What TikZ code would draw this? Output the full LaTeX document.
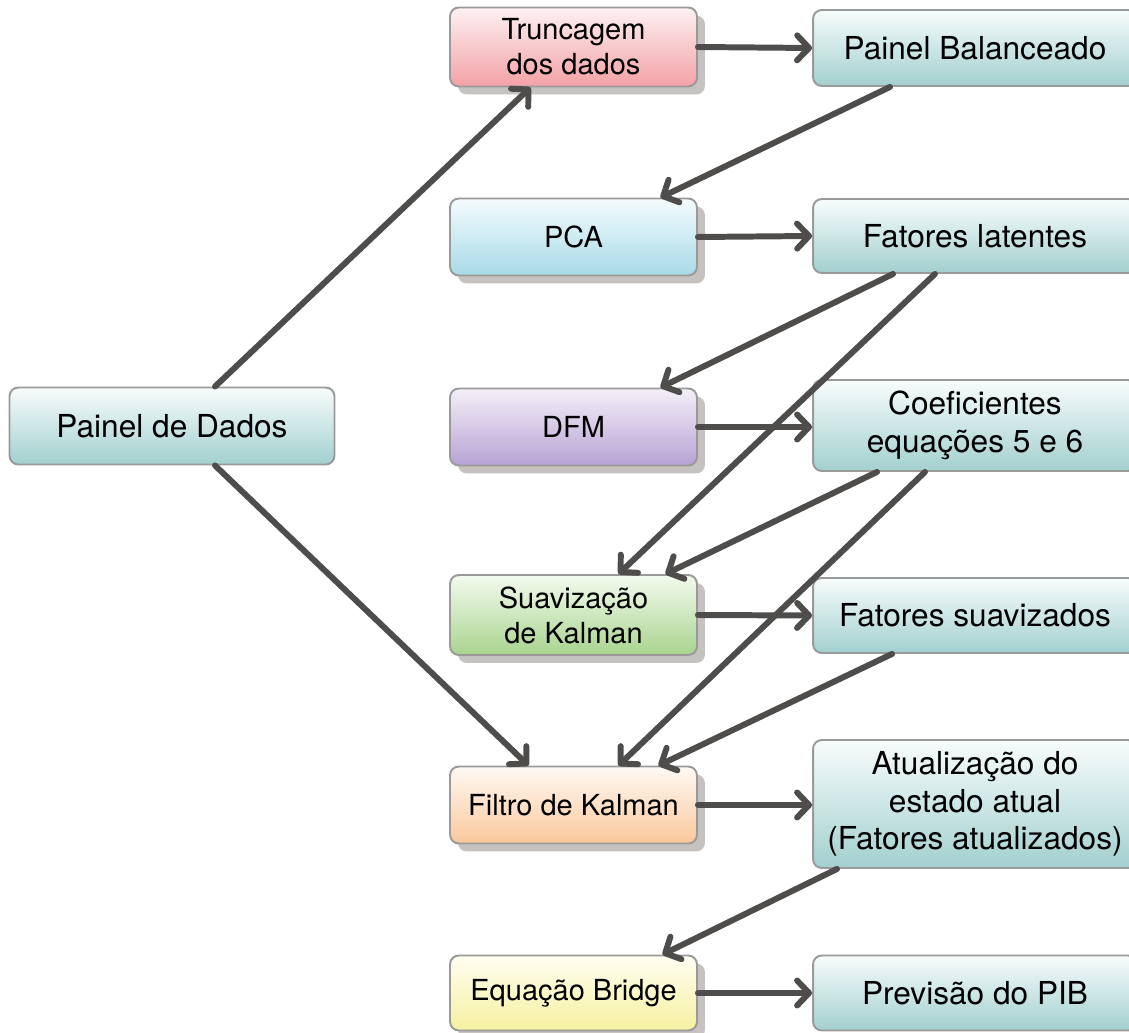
\documentclass[tikz,border=0pt]{standalone}
\usepackage{fontspec}
\setmainfont{TeX Gyre Heros}
\usetikzlibrary{arrows.meta,calc,shadows}
\definecolor{Borda}{HTML}{9A9A9A}
\definecolor{Sombra}{HTML}{C6C2BF}
\definecolor{Seta}{HTML}{4F4D4B}
\definecolor{TealTop}{HTML}{F8FCFC}
\definecolor{TealBot}{HTML}{A2D0CF}
\definecolor{RedTop}{HTML}{FDF1F2}
\definecolor{RedBot}{HTML}{F3A1A6}
\definecolor{BlueTop}{HTML}{F5FBFD}
\definecolor{BlueBot}{HTML}{A8DAE7}
\definecolor{LilacTop}{HTML}{F4EFF8}
\definecolor{LilacBot}{HTML}{B7A3D4}
\definecolor{GreenTop}{HTML}{F3FAEE}
\definecolor{GreenBot}{HTML}{A9D48F}
\definecolor{PeachTop}{HTML}{FFF9F4}
\definecolor{PeachBot}{HTML}{FAC89B}
\definecolor{YellowTop}{HTML}{FFFEF2}
\definecolor{YellowBot}{HTML}{F6F0A0}
\tikzset{
  caixa/.style={
    rounded corners=5pt, draw=Borda, line width=1.1pt,
    top color=TealTop, bottom color=TealBot,
    align=center, inner sep=2pt, text=black
  },
  etapa/.style={
    caixa, minimum width=4.94cm, minimum height=1.54cm,
    font=\fontsize{16.5}{20}\selectfont,
    drop shadow={shadow xshift=0.16cm, shadow yshift=-0.16cm,
      fill=Sombra, opacity=1}
  },
  saida/.style={
    caixa, minimum width=6.48cm, minimum height=1.52cm,
    font=\fontsize{18}{21.5}\selectfont
  },
  tons/.style 2 args={top color=#1, bottom color=#2},
  fluxo/.style={-{Straight Barb[length=2.4mm,width=5mm,round]},
    line width=3.4pt, draw=Seta, line cap=round}
}
\begin{document}
\begin{tikzpicture}[x=0.02cm,y=-0.02cm]
    \useasboundingbox (0,0) rectangle (1129,1033);
    \clip (0,0) rectangle (1129,1033);

    % entrada
    \node[saida,minimum width=6.5cm,minimum height=1.54cm] (painel) at (172,426) {Painel de Dados};

    % coluna do meio
    \node[etapa,tons={RedTop}{RedBot},minimum height=1.58cm] (trunc) at (573.5,47) {Truncagem\\dos dados};
    \node[etapa,tons={BlueTop}{BlueBot}] (pca) at (573.5,237) {PCA};
    \node[etapa,tons={LilacTop}{LilacBot}] (dfm) at (573.5,427) {DFM};
    \node[etapa,tons={GreenTop}{GreenBot},minimum height=1.6cm] (suav) at (573.5,615) {Suavização\\de Kalman};
    \node[etapa,tons={PeachTop}{PeachBot}] (filtro) at (573.5,805) {Filtro de Kalman};
    \node[etapa,tons={YellowTop}{YellowBot},minimum height=1.5cm] (bridge) at (573.5,993) {Equação Bridge};

    % coluna da direita
    \node[saida] (balan) at (975,48) {Painel Balanceado};
    \node[saida,minimum height=1.48cm] (latent) at (975,236) {Fatores latentes};
    \node[saida,minimum height=1.82cm] (coef) at (975,425.5) {Coeficientes\\equações 5 e 6};
    \node[saida,minimum height=1.5cm] (fsuav) at (975,615.5) {Fatores suavizados};
    \node[saida,minimum height=2.56cm] (atual) at (975,804) {Atualização do\\estado atual\\(Fatores atualizados)};
    \node[saida,minimum height=1.5cm] (pib) at (975,993) {Previsão do PIB};

    % setas horizontais
    \draw[fluxo] (trunc.east) -- (balan.west);
    \draw[fluxo] (pca.east) -- (latent.west);
    \draw[fluxo] (dfm.east) -- (dfm.east -| coef.west);
    \draw[fluxo] (suav.east) -- (fsuav.west);
    \draw[fluxo] (filtro.east) -- (filtro.east -| atual.west);
    \draw[fluxo] (bridge.east) -- (pib.west);

    % setas diagonais
    \draw[fluxo] ($(painel.north)+(43,0)$) -- ($(trunc.south)+(-43,0)$);
    \draw[fluxo] ($(painel.south)+(43,0)$) -- ($(filtro.north)+(-45,0)$);
    \draw[fluxo] ($(balan.south)+(-85,0)$) -- ($(pca.north)+(87,0)$);
    \draw[fluxo] ($(latent.south)+(-82,0)$) -- ($(dfm.north)+(87,0)$);
    \draw[fluxo] ($(latent.south)+(-40,0)$) -- ($(suav.north)+(45,0)$);
    \draw[fluxo] ($(coef.south)+(-98,0)$) -- ($(suav.north)+(92,0)$);
    \draw[fluxo] ($(coef.south)+(-50,0)$) -- ($(filtro.north)+(45,0)$);
    \draw[fluxo] ($(fsuav.south)+(-83,0)$) -- ($(filtro.north)+(85,0)$);
    \draw[fluxo] ($(atual.south)+(-138,0)$) -- ($(bridge.north)+(89,0)$);
  \end{tikzpicture}
\end{document}
